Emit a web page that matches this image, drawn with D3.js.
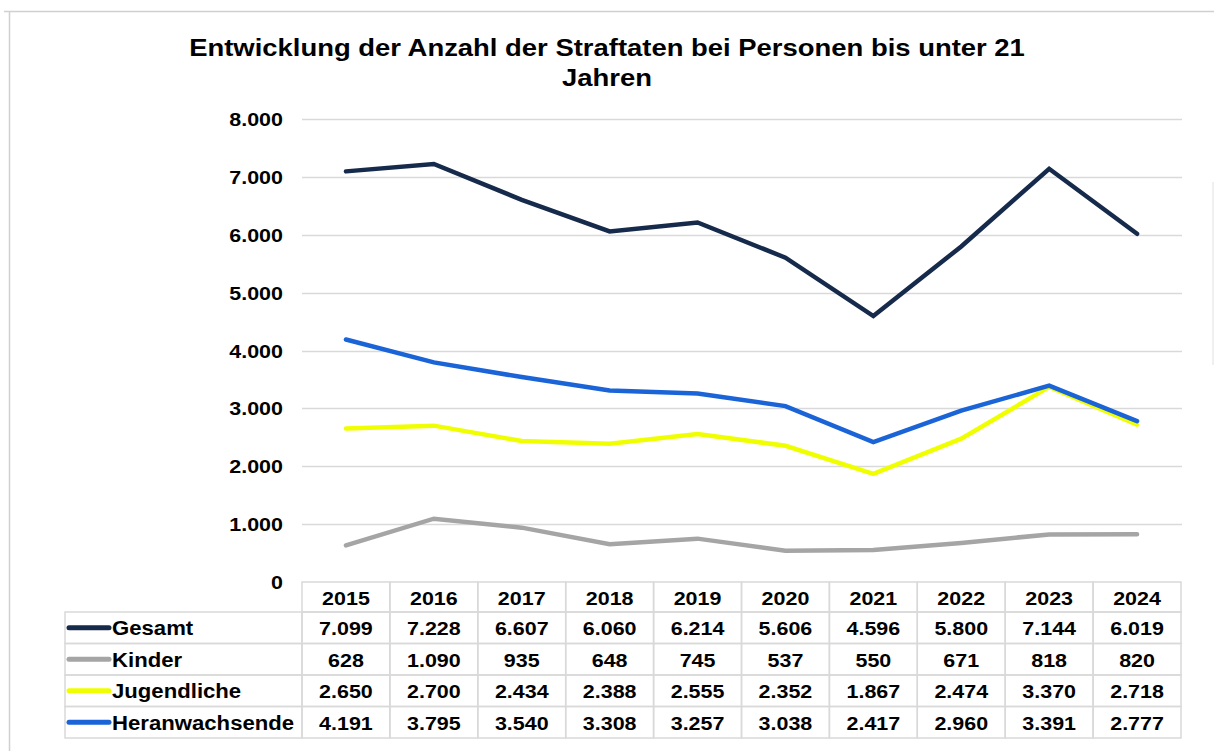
<!DOCTYPE html>
<html><head><meta charset="utf-8">
<script src="https://cdn.jsdelivr.net/npm/d3@7"></script>
<style>body{margin:0;background:#fff;}svg{display:block;font-family:"Liberation Sans",Arial,sans-serif;}</style>
</head><body>
<svg id="c" width="1214" height="751"></svg>
<script>
const years = ["2015","2016","2017","2018","2019","2020","2021","2022","2023","2024"];
const gesamt = [7099,7228,6607,6060,6214,5606,4596,5800,7144,6019];
const kinder = [628,1090,935,648,745,537,550,671,818,820];
const jugendliche = [2650,2700,2434,2388,2555,2352,1867,2474,3370,2718];
const heranwachsende = [4191,3795,3540,3308,3257,3038,2417,2960,3391,2777];
const seriesNames = ["Gesamt","Kinder","Jugendliche","Heranwachsende"];
const seriesColors = ["#162a4b","#a5a5a5","#f0ff00","#1a64d8"];
const yTicks = [0,1000,2000,3000,4000,5000,6000,7000,8000];
const titleLines = ["Entwicklung der Anzahl der Straftaten bei Personen bis unter 21","Jahren"];

const seriesValues = [gesamt,kinder,jugendliche,heranwachsende];
const svg = d3.select("#c");
const fmt = v => d3.format(",")(v).replace(/,/g,".");
const SX = 1.13; // horizontal stretch of text

function stext(g, x, y, str, size, anchor, sx){
  return g.append("text")
    .attr("transform",`translate(${x},${y}) scale(${sx||SX},1)`)
    .attr("font-size",size).attr("font-weight","bold").attr("fill","#000")
    .attr("text-anchor",anchor).text(str);
}

// frame
svg.append("line").attr("x1",4).attr("x2",1214).attr("y1",11.5).attr("y2",11.5).attr("stroke","#d0d0d0").attr("stroke-width",1.5);
svg.append("line").attr("x1",9.5).attr("x2",9.5).attr("y1",11).attr("y2",751).attr("stroke","#d0d0d0").attr("stroke-width",1.5);
svg.append("line").attr("x1",1213).attr("x2",1213).attr("y1",182).attr("y2",365).attr("stroke","#e0e0e0").attr("stroke-width",1);

// title
titleLines.forEach((l,i)=> stext(svg, 607, 56 + i*30, l, 24.5, "middle", 1.12));

const x = d3.scaleBand().domain(years).range([302,1181]);
const y = d3.scaleLinear().domain([0,8000]).range([581.7,119.3]);

// gridlines
const grid = svg.append("g");
grid.selectAll("line").data(yTicks.filter(d=>d>0)).join("line")
  .attr("x1",302).attr("x2",1182).attr("y1",d=>Math.round(y(d))+0.5).attr("y2",d=>Math.round(y(d))+0.5)
  .attr("stroke","#d9d9d9").attr("stroke-width",1.5);

// y labels
yTicks.forEach(t => stext(svg, 283, y(t)+7, fmt(t), 19, "end"));

// lines
const line = d3.line().x((d,i)=>x(years[i])+x.bandwidth()/2).y(d=>y(d));
seriesValues.forEach((vals,k)=>{
  svg.append("path").datum(vals).attr("d",line).attr("fill","none")
    .attr("stroke",seriesColors[k]).attr("stroke-width",4.5)
    .attr("stroke-linejoin","miter").attr("stroke-linecap","round");
});

// table
const tTop = 582, hdrH = 30, rowH = 31.5, labL = 65;
const tb = svg.append("g");
const gcol = "#d9d9d9";
years.forEach(yr=>{
  tb.append("rect").attr("x",x(yr)).attr("y",tTop).attr("width",x.bandwidth()).attr("height",hdrH)
    .attr("fill","none").attr("stroke",gcol).attr("stroke-width",1.5);
  stext(tb, x(yr)+x.bandwidth()/2, tTop+23, yr, 19, "middle");
});
seriesNames.forEach((name,k)=>{
  const ry = tTop+hdrH+k*rowH;
  tb.append("rect").attr("x",labL).attr("y",ry).attr("width",302-labL).attr("height",rowH)
    .attr("fill","none").attr("stroke",gcol).attr("stroke-width",1.5);
  tb.append("line").attr("x1",69).attr("x2",109).attr("y1",ry+rowH/2).attr("y2",ry+rowH/2)
    .attr("stroke",seriesColors[k]).attr("stroke-width",5).attr("stroke-linecap","round");
  stext(tb, 112, ry+23, name, 19.6, "start");
  seriesValues[k].forEach((v,i)=>{
    tb.append("rect").attr("x",x(years[i])).attr("y",ry).attr("width",x.bandwidth()).attr("height",rowH)
      .attr("fill","none").attr("stroke",gcol).attr("stroke-width",1.5);
    stext(tb, x(years[i])+x.bandwidth()/2, ry+23, fmt(v), 19, "middle");
  });
});
</script>
</body></html>
